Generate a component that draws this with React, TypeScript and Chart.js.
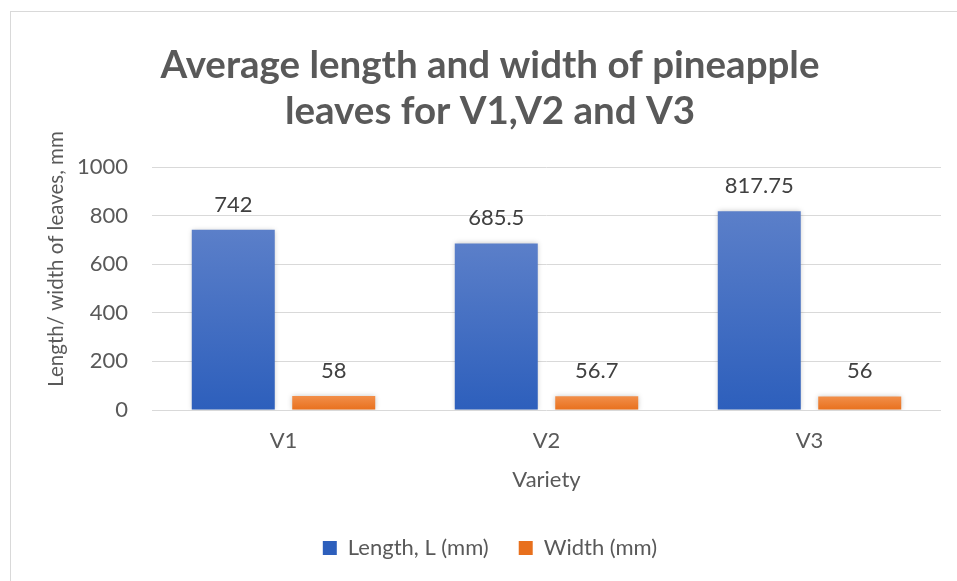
import React, { useEffect, useRef } from "react";
import { Chart, registerables } from "chart.js";

Chart.register(...registerables);

const categories = ["V1", "V2", "V3"];
const lengthValues = [742, 685.5, 817.75];
const widthValues = [58, 56.7, 56];
const seriesNames = ["Length, L (mm)", "Width (mm)"];
const titleLines = ["Average length and width of pineapple", "leaves for V1,V2 and V3"];
const yTitle = "Length/ width of leaves, mm";
const xTitle = "Variety";
const yMin = 0;
const yMax = 1000;
const yStep = 200;

const FONT = "Lato, 'Open Sans', sans-serif";

function gradientFill(top: string, bottom: string, solid: string) {
  return (c: any) => {
    const chart = c.chart;
    const y = chart.scales && chart.scales.y;
    if (c.type !== "data" || !y || !chart.chartArea || typeof c.raw !== "number") return solid;
    const t = y.getPixelForValue(c.raw);
    const b = y.getPixelForValue(0);
    if (!isFinite(t) || !isFinite(b) || t === b) return solid;
    const g = chart.ctx.createLinearGradient(0, t, 0, b);
    g.addColorStop(0, top);
    g.addColorStop(1, bottom);
    return g;
  };
}

const extrasPlugin = {
  id: "extras",
  beforeDatasetsDraw(chart: any) {
    const ctx = chart.ctx;
    ctx.save();
    ctx.shadowColor = "rgba(0,0,0,0.22)";
    ctx.shadowBlur = 5;
    ctx.shadowOffsetX = 0;
    ctx.shadowOffsetY = 0;
  },
  afterDatasetsDraw(chart: any) {
    const ctx = chart.ctx;
    ctx.restore();
    ctx.save();
    ctx.font = `22px ${FONT}`;
    ctx.fillStyle = "#404040";
    ctx.textAlign = "center";
    ctx.textBaseline = "alphabetic";
    chart.data.datasets.forEach((ds: any, di: number) => {
      const meta = chart.getDatasetMeta(di);
      meta.data.forEach((el: any, i: number) => {
        ctx.fillText(String(ds.data[i]), el.x, el.y - 18);
      });
    });
    ctx.restore();
  },
  afterDraw(chart: any) {
    const ctx = chart.ctx;
    ctx.save();
    ctx.translate(56, 259);
    ctx.rotate(-Math.PI / 2);
    ctx.font = `20.5px ${FONT}`;
    ctx.fillStyle = "#595959";
    ctx.textAlign = "center";
    ctx.textBaseline = "middle";
    ctx.fillText(yTitle, 0, 0);
    ctx.restore();
  },
};

export default function App() {
  const canvasRef = useRef<HTMLCanvasElement | null>(null);

  useEffect(() => {
    document.body.style.margin = "0";
    document.body.style.overflow = "hidden";
    const canvas = canvasRef.current;
    if (!canvas) return;
    const chart = new Chart(canvas, {
      type: "bar",
      data: {
        labels: categories,
        datasets: [
          {
            label: seriesNames[0],
            data: lengthValues,
            backgroundColor: gradientFill("#5b7fc9", "#2d5fbc", "#4472c4"),
            categoryPercentage: 0.764,
            barPercentage: 0.826,
          },
          {
            label: seriesNames[1],
            data: widthValues,
            backgroundColor: gradientFill("#f28f4a", "#e8701d", "#ed7d31"),
            categoryPercentage: 0.764,
            barPercentage: 0.826,
          },
        ],
      },
      options: {
        animation: false,
        responsive: false,
        maintainAspectRatio: false,
        layout: { padding: { left: 39, right: 16, top: 0, bottom: 12 } },
        plugins: {
          title: {
            display: true,
            text: titleLines,
            color: "#595959",
            font: { family: FONT, size: 38.5, weight: "bold", lineHeight: "46px" },
            padding: { top: 43, bottom: 32 },
          },
          legend: {
            display: true,
            position: "bottom",
            labels: {
              boxWidth: 14,
              boxHeight: 14,
              padding: 30,
              color: "#595959",
              font: { family: FONT, size: 22 },
            },
          },
          tooltip: { enabled: false },
        },
        scales: {
          x: {
            grid: { display: false, drawTicks: false },
            border: { display: false },
            ticks: { color: "#595959", font: { family: FONT, size: 22 }, padding: 18 },
            title: {
              display: true,
              text: xTitle,
              color: "#595959",
              font: { family: FONT, size: 22 },
              padding: { top: 4, bottom: 14 },
            },
            afterFit: (s: any) => {
              s.height = 97;
            },
          },
          y: {
            min: yMin,
            max: yMax,
            ticks: {
              stepSize: yStep,
              color: "#595959",
              font: { family: FONT, size: 22 },
              padding: 24,
              callback: (v: any) => String(v),
            },
            grid: { color: "#d9d9d9", lineWidth: 1, drawTicks: false },
            border: { display: false },
            title: { display: false, text: yTitle },
            afterFit: (s: any) => {
              s.width = 113;
            },
          },
        },
      },
      plugins: [extrasPlugin],
    } as any);
    return () => chart.destroy();
  }, []);

  return (
    <div style={{ position: "relative", width: 957, height: 581, overflow: "hidden", background: "#fff" }}>
      <div
        style={{
          position: "absolute",
          left: 10,
          top: 11,
          width: 990,
          height: 620,
          border: "1px solid #d9d9d9",
          boxSizing: "border-box",
        }}
      />
      <canvas ref={canvasRef} width={957} height={581} style={{ position: "absolute", left: 0, top: 0, display: "block" }} />
    </div>
  );
}
